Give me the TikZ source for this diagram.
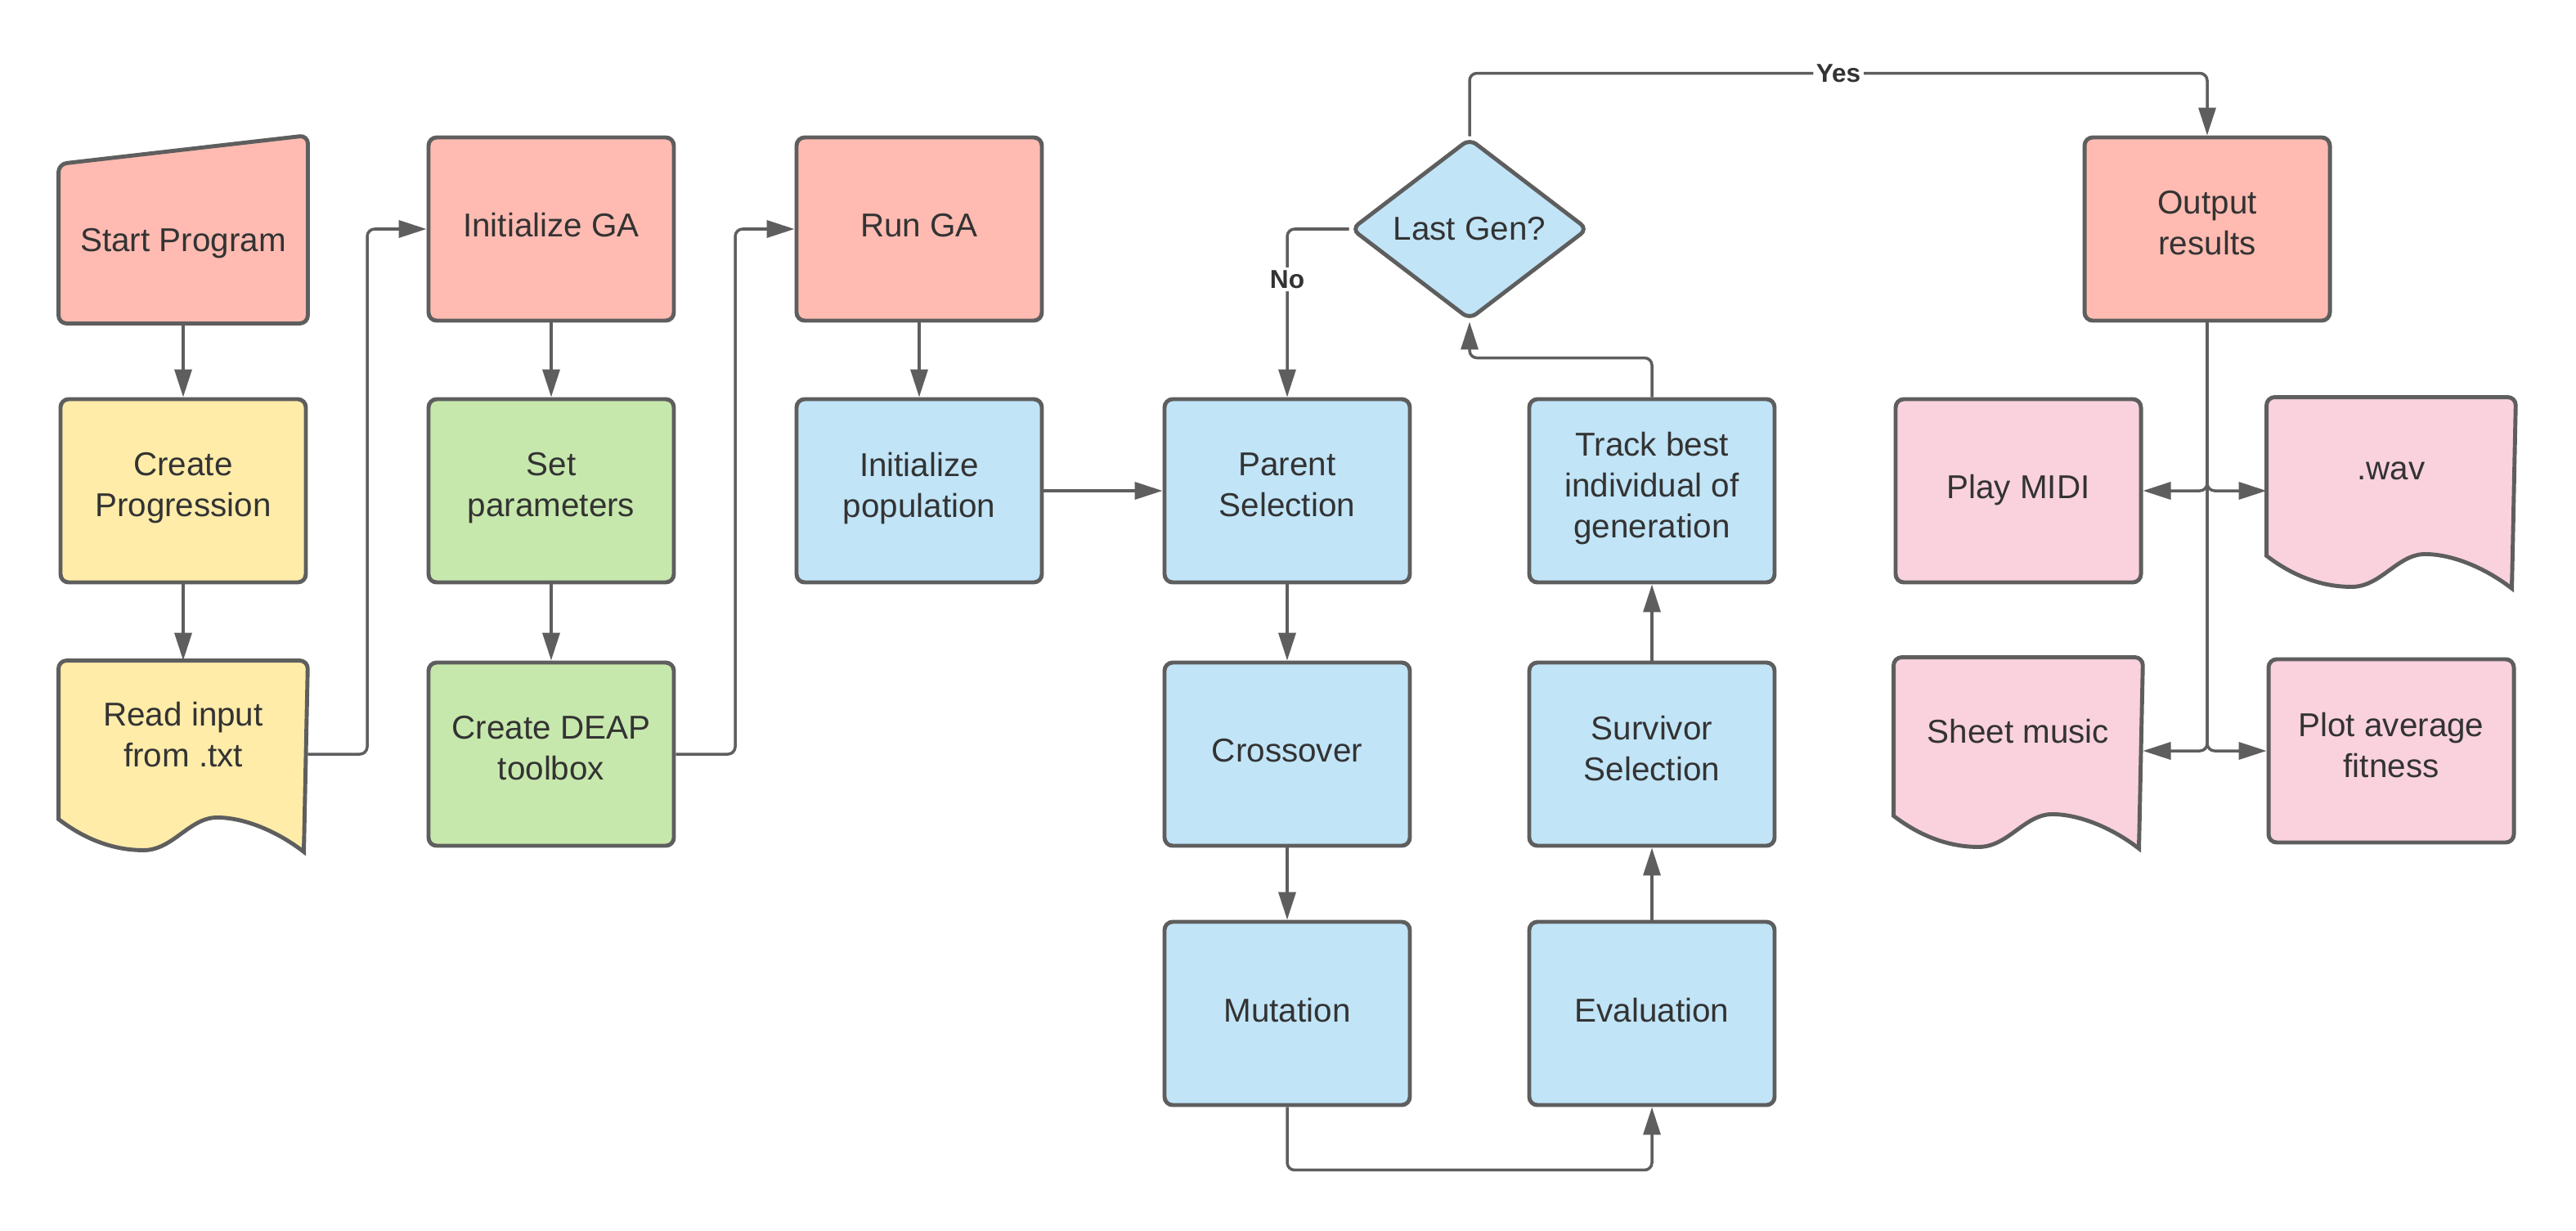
\documentclass[tikz,border=0pt]{standalone}
\usepackage{fontspec}
\setmainfont{Liberation Sans}
\usetikzlibrary{arrows.meta,shapes.geometric,calc,backgrounds}

\definecolor{lineg}{HTML}{5E5E5E}
\definecolor{txtg}{HTML}{333333}
\definecolor{salmon}{HTML}{FFBBB1}
\definecolor{butter}{HTML}{FFECA9}
\definecolor{mint}{HTML}{C7E8AC}
\definecolor{sky}{HTML}{C1E4F7}
\definecolor{blush}{HTML}{F9D2DE}

\begin{document}
\begin{tikzpicture}%
        [box/.style={rectangle, draw=lineg, line width=1.4pt, rounded corners=0.1cm,
                minimum width=3cm, minimum height=2.24cm, align=center, inner sep=0pt,
                execute at begin node=\strut, execute at end node=\strut},
        bare/.style={box, draw=none},
        decision/.style={diamond, aspect=1.3, draw=lineg, fill=sky, line width=1.4pt,
                rounded corners=0.1cm, minimum width=2.9cm, minimum height=2.22cm, inner sep=0pt},
        outline/.style={draw=lineg, line width=1.4pt},
        flow/.style={draw=lineg, line width=1pt, rounded corners=0.09cm,
                -{Triangle[length=0.34cm,width=0.21cm]}},
        branch/.style={font=\fontsize{9}{11}\selectfont\bfseries, fill=white, inner sep=1pt},
        doclabel/.style={yshift=0.24cm, align=center},
        font=\fontsize{11.5}{14.2}\selectfont, text=txtg]

    \useasboundingbox (0,0) rectangle (31.5,-15.04);

    %% Reading the input
    \node[bare, minimum height=1.9cm] (start) at (2.24,-2.98) {Start Program};
    \node[box, fill=butter] (prog) at (2.24,-6.00) {Create\\Progression};
    \node[bare, label={[doclabel]center:{Read input\\from .txt}}] (read) at (2.24,-9.22) {};
    %%
    %% Setting up the GA
    %%
    \node[box, fill=salmon] (initga) at (6.74,-2.80) {Initialize GA};
    \node[box, fill=mint] (params) at (6.74,-6.00) {Set\\parameters};
    \node[box, fill=mint] (deap) at (6.74,-9.22) {Create DEAP\\toolbox};
    \node[box, fill=salmon] (rungA) at (11.24,-2.80) {Run GA};
    \node[box, fill=sky] (initpop) at (11.24,-6.00) {Initialize\\population};
    %%
    %% One generation
    %%
    \node[box, fill=sky] (parent) at (15.74,-6.00) {Parent\\Selection};
    \node[box, fill=sky] (cross) at (15.74,-9.22) {Crossover};
    \node[box, fill=sky] (mutate) at (15.74,-12.39) {Mutation};
    \node[box, fill=sky] (evaluate) at (20.20,-12.39) {Evaluation};
    \node[box, fill=sky] (survive) at (20.20,-9.22) {Survivor\\Selection};
    \node[box, fill=sky] (track) at (20.20,-6.00) {Track best\\individual of\\generation};
    \node[decision] (lastgen) at (17.97,-2.80) {Last Gen?};
    %%
    %% Results
    %%
    \node[box, fill=salmon] (output) at (26.99,-2.80) {Output\\results};
    \node[box, fill=blush] (midi) at (24.68,-6.00) {Play MIDI};
    \node[bare, label={[doclabel]center:.wav}] (wav) at (29.24,-6.00) {};
    \node[bare, label={[doclabel]center:Sheet music}] (sheet) at (24.68,-9.18) {};
    \node[box, fill=blush] (plot) at (29.24,-9.18) {Plot average\\fitness};

    %% Outlines of the odd shapes
    \begin{scope}[on background layer]
    \filldraw[outline, fill=salmon, rounded corners=0.1cm] (start.south west) -- (start.north west)
        -- ($(start.north east)+(0,0.35)$) -- (start.south east) -- cycle;
    \foreach \d/\c in {read/butter, wav/blush, sheet/blush}
        \filldraw[outline, fill=\c] ($(\d.south west)+(3,-0.05)$)
            .. controls ($(\d.south west)+(2.65,0.22)$) and ($(\d.south west)+(2.25,0.37)$) .. ($(\d.south west)+(1.94,0.37)$)
            .. controls ($(\d.south west)+(1.60,0.37)$) and ($(\d.south west)+(1.40,-0.03)$) .. ($(\d.south west)+(1.04,-0.03)$)
            .. controls ($(\d.south west)+(0.65,-0.03)$) and ($(\d.south west)+(0.30,0.12)$) .. ($(\d.south west)+(0,0.35)$)
            [rounded corners=0.1cm] -- (\d.north west) -- (\d.north east) -- ($(\d.south west)+(3,-0.05)$)
            [sharp corners] -- cycle;
    \end{scope}

    %% Connectors
    \draw[flow] (start) -- (prog);
    \draw[flow] (prog) -- (read);
    \draw[flow] (read.east) -| ($(read.east)!.5!(initga.west)$) |- (initga.west);
    \draw[flow] (initga) -- (params);
    \draw[flow] (params) -- (deap);
    \draw[flow] (deap.east) -| ($(deap.east)!.5!(rungA.west)$) |- (rungA.west);
    \draw[flow] (rungA) -- (initpop);
    \draw[flow] (initpop) -- (parent);
    \draw[flow] (parent) -- (cross);
    \draw[flow] (cross) -- (mutate);
    \draw[flow] (mutate.south) -- ++(0,-0.77) -| (evaluate.south);
    \draw[flow] (evaluate) -- (survive);
    \draw[flow] (survive) -- (track);
    \draw[flow] (track.north) -- ++(0,0.48) -| (lastgen.south);
    \draw[flow] (lastgen.west) -| node[branch, pos=0.65]{No} (parent.north);
    \draw[flow] (lastgen.north) -- ++(0,0.77) -| node[branch, pos=0.25]{Yes} (output.north);
    \foreach \t/\s in {midi/east, wav/west, sheet/east, plot/west}
        \draw[flow] (output.south) |- (\t.\s);
\end{tikzpicture}
\end{document}
